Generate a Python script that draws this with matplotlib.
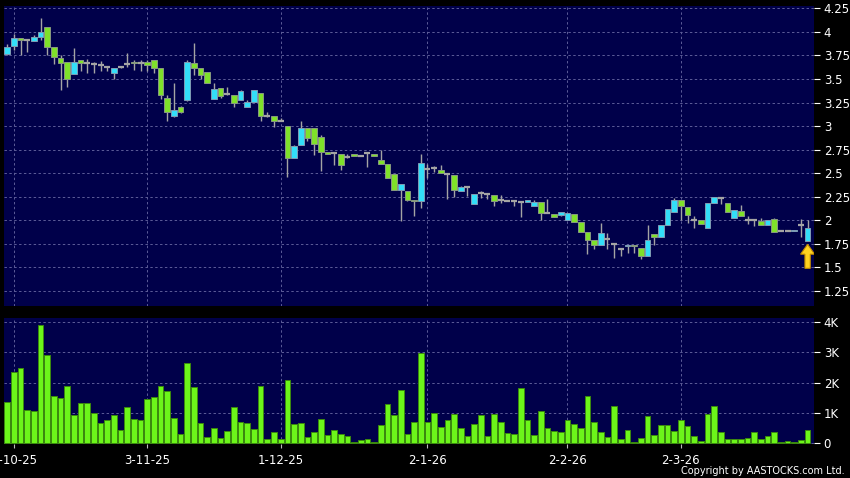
import numpy as np
import matplotlib
matplotlib.use('Agg')
import matplotlib.pyplot as plt

# --- daily candles (HKD) ---
opens = [3.77, 3.85, 3.93, 3.91, 3.90, 3.95, 4.05, 3.84, 3.72, 3.68,
         3.55, 3.70, 3.67, 3.66, 3.645, 3.63, 3.56, 3.63, 3.66, 3.685,
         3.67, 3.68, 3.70, 3.62, 3.30, 3.11, 3.20, 3.28, 3.67, 3.62,
         3.57, 3.29, 3.40, 3.34, 3.33, 3.275, 3.20, 3.26, 3.35, 3.11,
         3.11, 3.055, 3.00, 2.66, 2.80, 2.975, 2.985, 2.88, 2.73, 2.71,
         2.70, 2.675, 2.70, 2.685, 2.71, 2.70, 2.64, 2.60, 2.49, 2.32,
         2.315, 2.22, 2.20, 2.545, 2.555, 2.53, 2.49, 2.48, 2.31, 2.35,
         2.17, 2.29, 2.275, 2.27, 2.22, 2.21, 2.205, 2.195, 2.195, 2.15,
         2.195, 2.08, 2.07, 2.055, 2.00, 2.07, 1.98, 1.875, 1.79, 1.74,
         1.80, 1.75, 1.70, 1.725, 1.74, 1.705, 1.62, 1.85, 1.82, 1.945,
         2.09, 2.22, 2.145, 2.00, 2.00, 1.915, 2.18, 2.235, 2.18, 2.025,
         2.095, 2.00, 2.00, 1.99, 1.945, 2.01, 1.89, 1.89, 1.89, 1.95,
         1.785]
highs = [3.87, 3.98, 3.93, 3.92, 3.97, 4.15, 4.05, 3.84, 3.76, 3.68,
         3.83, 3.70, 3.71, 3.68, 3.69, 3.64, 3.62, 3.64, 3.78, 3.70,
         3.70, 3.70, 3.70, 3.62, 3.33, 3.46, 3.21, 3.70, 3.88, 3.62,
         3.57, 3.46, 3.40, 3.42, 3.33, 3.385, 3.28, 3.38, 3.35, 3.15,
         3.11, 3.085, 3.00, 2.80, 3.055, 2.975, 2.985, 2.905, 2.73, 2.72,
         2.70, 2.70, 2.70, 2.69, 2.72, 2.70, 2.75, 2.60, 2.49, 2.38,
         2.315, 2.22, 2.70, 2.60, 2.575, 2.585, 2.49, 2.48, 2.36, 2.35,
         2.28, 2.31, 2.275, 2.27, 2.27, 2.21, 2.205, 2.195, 2.22, 2.22,
         2.195, 2.23, 2.07, 2.085, 2.08, 2.07, 1.98, 1.875, 1.79, 1.975,
         1.86, 1.75, 1.70, 1.74, 1.74, 1.705, 1.95, 1.85, 1.955, 2.12,
         2.24, 2.22, 2.145, 2.05, 2.00, 2.18, 2.245, 2.24, 2.18, 2.11,
         2.165, 2.05, 2.00, 2.02, 2.00, 2.02, 1.89, 1.89, 1.90, 2.01,
         2.00]
lows = [3.76, 3.81, 3.75, 3.79, 3.90, 3.91, 3.75, 3.66, 3.38, 3.41,
        3.55, 3.58, 3.56, 3.56, 3.58, 3.59, 3.50, 3.62, 3.63, 3.60,
        3.59, 3.58, 3.56, 3.29, 3.05, 3.10, 3.14, 3.27, 3.54, 3.50,
        3.46, 3.29, 3.30, 3.33, 3.20, 3.275, 3.20, 3.26, 3.05, 3.10,
        2.99, 3.05, 2.46, 2.66, 2.80, 2.845, 2.69, 2.525, 2.70, 2.585,
        2.53, 2.66, 2.68, 2.68, 2.57, 2.68, 2.60, 2.45, 2.32, 1.99,
        2.21, 2.05, 2.13, 2.45, 2.51, 2.50, 2.23, 2.25, 2.31, 2.26,
        2.17, 2.24, 2.23, 2.15, 2.18, 2.20, 2.15, 2.04, 2.19, 2.15,
        2.00, 2.08, 2.03, 2.05, 2.00, 1.98, 1.88, 1.64, 1.70, 1.74,
        1.70, 1.60, 1.62, 1.65, 1.65, 1.59, 1.62, 1.74, 1.82, 1.945,
        2.09, 2.00, 1.97, 1.92, 1.96, 1.915, 2.18, 2.17, 2.085, 2.025,
        2.05, 1.96, 1.94, 1.945, 1.945, 1.875, 1.89, 1.89, 1.89, 1.82,
        1.785]
closes = [3.84, 3.93, 3.91, 3.91, 3.95, 4.00, 3.84, 3.73, 3.67, 3.50,
          3.68, 3.67, 3.67, 3.66, 3.645, 3.63, 3.62, 3.63, 3.66, 3.665,
          3.67, 3.65, 3.62, 3.33, 3.15, 3.17, 3.15, 3.68, 3.62, 3.54,
          3.46, 3.39, 3.32, 3.34, 3.24, 3.37, 3.26, 3.38, 3.11, 3.11,
          3.05, 3.055, 2.66, 2.79, 2.985, 2.87, 2.81, 2.72, 2.70, 2.71,
          2.59, 2.675, 2.68, 2.685, 2.71, 2.68, 2.60, 2.45, 2.32, 2.38,
          2.22, 2.20, 2.61, 2.545, 2.555, 2.50, 2.49, 2.32, 2.35, 2.35,
          2.28, 2.29, 2.275, 2.20, 2.22, 2.21, 2.205, 2.195, 2.22, 2.195,
          2.08, 2.08, 2.03, 2.085, 2.08, 1.98, 1.88, 1.79, 1.74, 1.86,
          1.80, 1.75, 1.70, 1.74, 1.725, 1.62, 1.79, 1.82, 1.955, 2.12,
          2.22, 2.155, 2.06, 2.00, 1.96, 2.18, 2.245, 2.235, 2.085, 2.11,
          2.05, 2.00, 2.00, 1.945, 2.00, 1.875, 1.89, 1.89, 1.90, 1.95,
          1.92]

# volume in thousands of shares
volumes = [1.37, 2.35, 2.48, 1.09, 1.07, 3.91, 2.90, 1.54, 1.49, 1.90,
           0.94, 1.34, 1.32, 1.01, 0.66, 0.77, 0.92, 0.43, 1.19, 0.79,
           0.75, 1.46, 1.52, 1.89, 1.71, 0.84, 0.29, 2.64, 1.84, 0.66,
           0.20, 0.51, 0.17, 0.41, 1.19, 0.70, 0.66, 0.47, 1.87, 0.14,
           0.35, 0.14, 2.09, 0.62, 0.66, 0.19, 0.38, 0.80, 0.27, 0.44,
           0.31, 0.22, 0.03, 0.11, 0.13, 0.05, 0.60, 1.30, 0.94, 1.76,
           0.30, 0.70, 2.97, 0.68, 0.98, 0.53, 0.77, 0.95, 0.50, 0.22,
           0.62, 0.94, 0.25, 0.95, 0.68, 0.33, 0.31, 1.83, 0.77, 0.27,
           1.06, 0.51, 0.41, 0.38, 0.77, 0.62, 0.51, 1.54, 0.70, 0.38,
           0.21, 1.22, 0.14, 0.43, 0.03, 0.18, 0.88, 0.27, 0.60, 0.60,
           0.41, 0.77, 0.55, 0.23, 0.07, 0.97, 1.23, 0.37, 0.15, 0.15,
           0.15, 0.18, 0.36, 0.14, 0.22, 0.37, 0.02, 0.08, 0.02, 0.10,
           0.44]

date_labels = ['2-10-25', '3-11-25', '1-12-25', '2-1-26', '2-2-26', '2-3-26']
date_index = [1, 21, 41, 63, 84, 101]

price_ticks = [1.25, 1.5, 1.75, 2, 2.25, 2.5, 2.75, 3, 3.25, 3.5, 3.75, 4, 4.25]
vol_ticks = [0, 1, 2, 3, 4]
vol_tick_labels = ['0', '1K', '2K', '3K', '4K']

# --- colours ---
BG = '#00004a'
GRID = '#5c5c98'
UP = '#33def8'
DOWN = '#7fe12a'
WICK = '#a4a4a4'
VOL = '#6cf51a'

o = np.array(opens); h = np.array(highs); l = np.array(lows); c = np.array(closes)
v = np.array(volumes)
x = np.arange(len(o))

fig = plt.figure(figsize=(8.5, 4.78), dpi=100, facecolor='black')
ax1 = fig.add_axes([4 / 850, 1 - 306 / 478, 810 / 850, 300 / 478])
ax2 = fig.add_axes([4 / 850, 1 - 444 / 478, 810 / 850, 126 / 478])

for ax in (ax1, ax2):
    ax.set_facecolor(BG)
    for s in ax.spines.values():
        s.set_visible(False)
    ax.set_xlim(-0.48, 120.96)
    ax.yaxis.tick_right()
    ax.tick_params(axis='y', colors='white', labelsize=8.5, length=4, width=0.8, pad=3)
    ax.set_xticks(date_index)
    ax.grid(True, color=GRID, linestyle=(0, (2.5, 2.5)), linewidth=0.7)
    ax.set_axisbelow(True)

# --- price candles ---
ax1.vlines(x, l, h, color=WICK, linewidth=1, zorder=2)
doji = np.abs(c - o) < 0.006
up = (c > o) & ~doji
dn = (c < o) & ~doji
ax1.bar(x[up], (c - o)[up], bottom=o[up], width=0.85, color=UP,
        edgecolor='#7f9cb4', linewidth=0.7, zorder=3)
ax1.bar(x[dn], (o - c)[dn], bottom=c[dn], width=0.85, color=DOWN,
        edgecolor='#889a80', linewidth=0.7, zorder=3)
ax1.hlines(c[doji], x[doji] - 0.45, x[doji] + 0.45, color=WICK, linewidth=1.6, zorder=3)

ax1.set_ylim(1.09, 4.275)
ax1.set_yticks(price_ticks)
ax1.set_yticklabels([f'{t:g}' for t in price_ticks])
ax1.tick_params(axis='x', bottom=False, labelbottom=False)

# yellow marker arrow under the latest candle
last = len(o) - 1
ax1.arrow(last, 1.49, 0, 0.255, width=0.8, head_width=2.1, head_length=0.105,
          length_includes_head=True, fc='#ffd21f', ec='#c08a00', linewidth=0.8, zorder=4)

# --- volume bars ---
ax2.bar(x, v, width=0.85, color=VOL, edgecolor='#3c8a0e', linewidth=0.7, zorder=3)
ax2.set_ylim(-0.03, 4.13)
ax2.set_yticks(vol_ticks)
ax2.set_yticklabels(vol_tick_labels)
ax2.set_xticklabels(date_labels)
ax2.tick_params(axis='x', colors='#bbbbbb', labelcolor='white', labelsize=8.5,
                length=3, width=0.8, pad=4)

fig.text(845 / 850, 1 - 471 / 478, 'Copyright by AASTOCKS.com Ltd.', color='white',
         fontsize=7, ha='right', va='center')

fig.savefig('out.png', dpi=100, facecolor='black')
